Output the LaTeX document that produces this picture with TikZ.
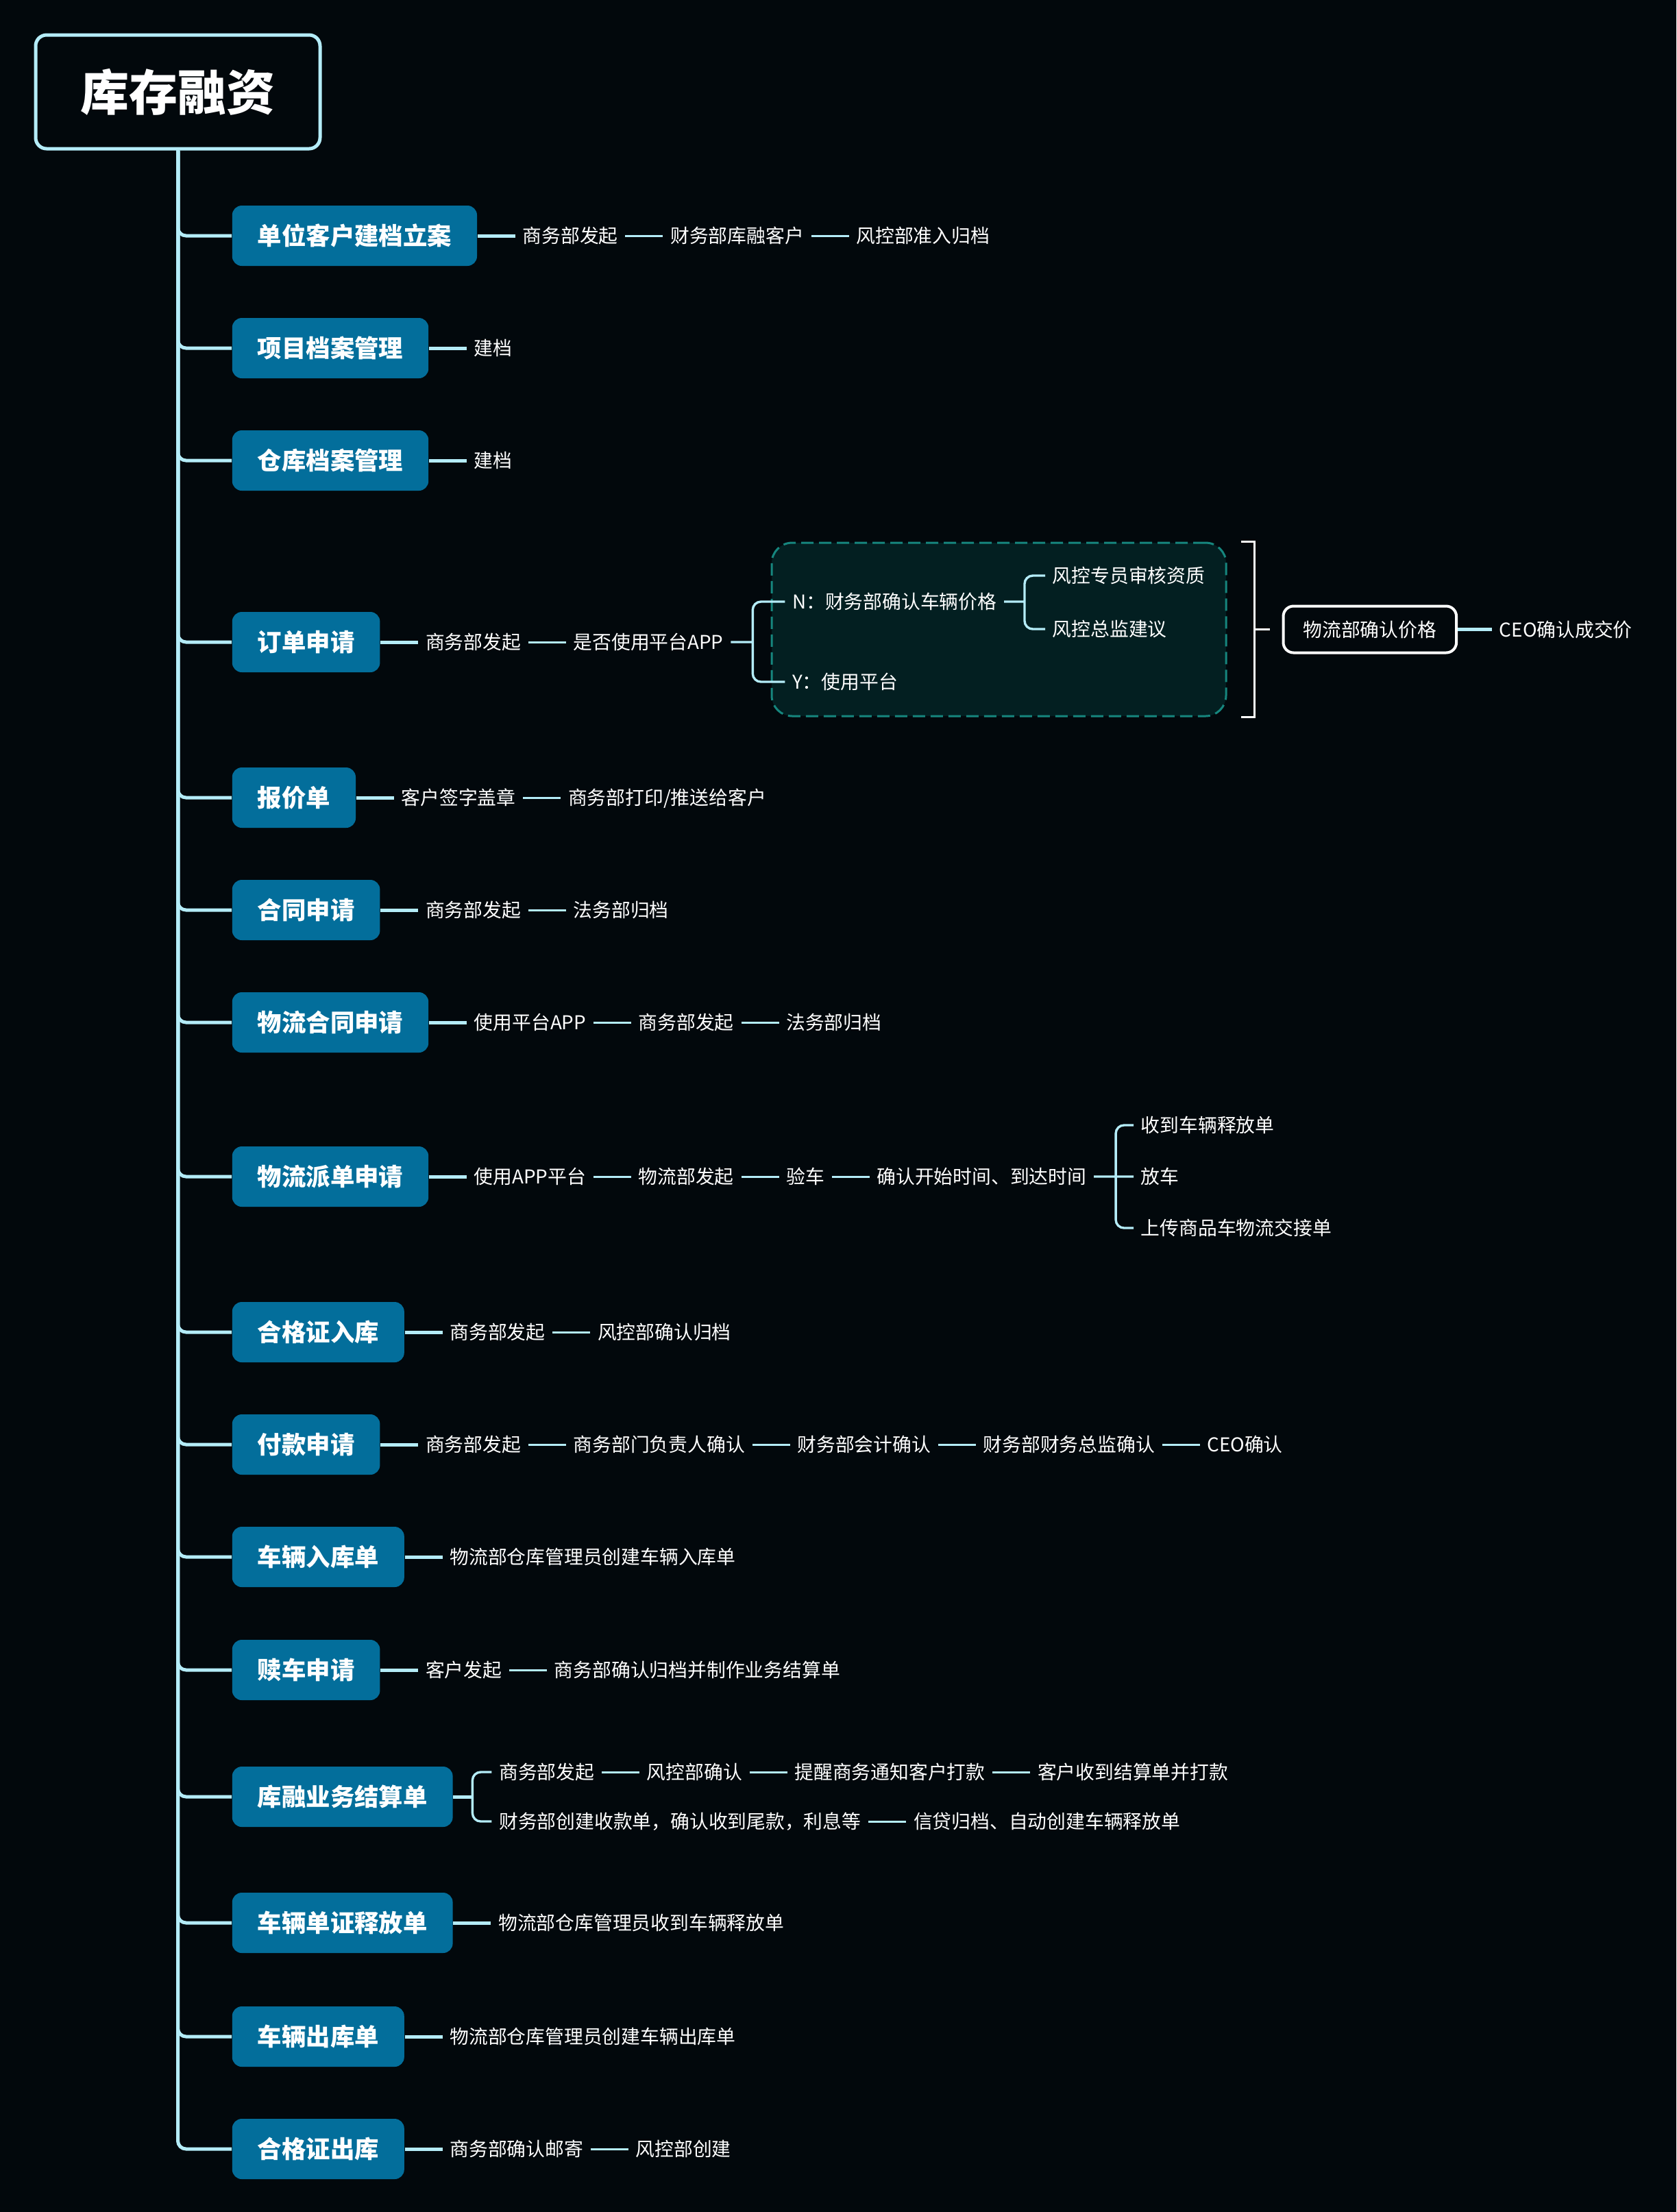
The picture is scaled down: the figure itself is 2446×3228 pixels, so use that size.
\documentclass[tikz,border=0pt]{standalone}
\usepackage{fontspec}
\setmainfont{Noto Sans CJK SC}
\usetikzlibrary{positioning}

\definecolor{bgdark}{RGB}{2,8,12}
\definecolor{linecyan}{RGB}{180,236,248}
\definecolor{topicblue}{RGB}{3,110,155}
\definecolor{groupteal}{RGB}{22,134,126}
\definecolor{groupfill}{RGB}{3,31,33}

\begin{document}
\begin{tikzpicture}[x=0.25pt,y=-0.25pt,node distance=13.75pt,
   root/.style={draw=linecyan,line width=1.25pt,rounded corners=4pt,fill=bgdark,
      text=white,font=\bfseries\fontsize{17.75}{20}\selectfont,
      minimum width=103.75pt,minimum height=41.5pt},
   topic/.style={anchor=west,fill=topicblue,rounded corners=3.5pt,text=white,
      font=\bfseries\fontsize{8.85}{10}\selectfont,minimum height=22pt,
      inner xsep=9.25pt,text height=7.6pt,text depth=0.95pt},
   leaf/.style={text=white,font=\fontsize{6.95}{8}\selectfont,inner xsep=2.5pt,
      inner ysep=1pt,text height=6pt,text depth=0.75pt},
   price/.style={leaf,draw=white,line width=1pt,rounded corners=3.75pt,
      fill=bgdark,minimum height=17pt,inner xsep=7.25pt},
   groupbox/.style={draw=groupteal,fill=groupfill,line width=0.75pt,
      dash pattern=on 4.5pt off 2pt,rounded corners=7.5pt,
      minimum width=165.75pt,minimum height=63.25pt},
   trunk/.style={draw=linecyan,line width=1.25pt,rounded corners=3pt},
   stem/.style={draw=linecyan,line width=1.25pt},
   seqline/.style={draw=linecyan,line width=0.75pt},
   forkline/.style={draw=linecyan,line width=0.85pt,rounded corners=3pt},
   closer/.style={draw=white,line width=0.8pt}]

   \fill[bgdark] (0,0) rectangle (2446,3228);
   \useasboundingbox (0,0) rectangle (2446,3228);

   \node[root] (root) at (259.5,134) {库存融资};

   % single chains
   \node[topic] (t1) at (338,344) {单位客户建档立案};
   \node[leaf] (t1a) [right=of t1]  {商务部发起};
   \node[leaf] (t1b) [right=of t1a] {财务部库融客户};
   \node[leaf] (t1c) [right=of t1b] {风控部准入归档};

   \node[topic] (t2) at (338,508) {项目档案管理};
   \node[leaf] (t2a) [right=of t2] {建档};

   \node[topic] (t3) at (338,672) {仓库档案管理};
   \node[leaf] (t3a) [right=of t3] {建档};

   % order with the dashed group
   \node[topic] (t4) at (338,937) {订单申请};
   \node[leaf] (t4a) [right=of t4]  {商务部发起};
   \node[leaf] (t4b) [right=of t4a] {是否使用平台APP};
   \node[groupbox] (grp) at (1457.5,918.5) {};
   \node[leaf] (t4n) [right=19.75pt of t4b,yshift=14.75pt] {N：财务部确认车辆价格};
   \node[leaf] (t4y) [right=19.75pt of t4b,yshift=-14.5pt] {Y：使用平台};
   \node[leaf] (t4n1) [right=15pt of t4n,yshift=9.5pt] {风控专员审核资质};
   \node[leaf] (t4n2) [right=15pt of t4n,yshift=-10pt] {风控总监建议};
   \node[price] (t4p) [right=20pt of grp] {物流部确认价格};
   \node[leaf] (t4c) [right=12.5pt of t4p] {CEO确认成交价};

   \node[topic] (t5) at (338,1164) {报价单};
   \node[leaf] (t5a) [right=of t5]  {客户签字盖章};
   \node[leaf] (t5b) [right=of t5a] {商务部打印/推送给客户};

   \node[topic] (t6) at (338,1328) {合同申请};
   \node[leaf] (t6a) [right=of t6]  {商务部发起};
   \node[leaf] (t6b) [right=of t6a] {法务部归档};

   \node[topic] (t7) at (338,1492) {物流合同申请};
   \node[leaf] (t7a) [right=of t7]  {使用平台APP};
   \node[leaf] (t7b) [right=of t7a] {商务部发起};
   \node[leaf] (t7c) [right=of t7b] {法务部归档};

   % dispatch with three ends
   \node[topic] (t8) at (338,1717) {物流派单申请};
   \node[leaf] (t8a) [right=of t8]  {使用APP平台};
   \node[leaf] (t8b) [right=of t8a] {物流部发起};
   \node[leaf] (t8c) [right=of t8b] {验车};
   \node[leaf] (t8d) [right=of t8c] {确认开始时间、到达时间};
   \node[leaf] (t8e) [right=14.5pt of t8d,yshift=18.75pt]  {收到车辆释放单};
   \node[leaf] (t8f) [right=14.5pt of t8d]                 {放车};
   \node[leaf] (t8g) [right=14.5pt of t8d,yshift=-18.75pt] {上传商品车物流交接单};

   \node[topic] (t9) at (338,1944) {合格证入库};
   \node[leaf] (t9a) [right=of t9]  {商务部发起};
   \node[leaf] (t9b) [right=of t9a] {风控部确认归档};

   \node[topic] (t10) at (338,2108) {付款申请};
   \node[leaf] (t10a) [right=of t10]  {商务部发起};
   \node[leaf] (t10b) [right=of t10a] {商务部门负责人确认};
   \node[leaf] (t10c) [right=of t10b] {财务部会计确认};
   \node[leaf] (t10d) [right=of t10c] {财务部财务总监确认};
   \node[leaf] (t10e) [right=of t10d] {CEO确认};

   \node[topic] (t11) at (338,2272) {车辆入库单};
   \node[leaf] (t11a) [right=of t11] {物流部仓库管理员创建车辆入库单};

   \node[topic] (t12) at (338,2437) {赎车申请};
   \node[leaf] (t12a) [right=of t12]  {客户发起};
   \node[leaf] (t12b) [right=of t12a] {商务部确认归档并制作业务结算单};

   % settlement with two rows
   \node[topic] (t13) at (338,2622) {库融业务结算单};
   \node[leaf] (t13a) [right=14pt of t13,yshift=9pt] {商务部发起};
   \node[leaf] (t13b) [right=of t13a] {风控部确认};
   \node[leaf] (t13c) [right=of t13b] {提醒商务通知客户打款};
   \node[leaf] (t13d) [right=of t13c] {客户收到结算单并打款};
   \node[leaf] (t13e) [right=14pt of t13,yshift=-9pt] {财务部创建收款单，确认收到尾款，利息等};
   \node[leaf] (t13f) [right=of t13e] {信贷归档、自动创建车辆释放单};

   \node[topic] (t14) at (338,2806) {车辆单证释放单};
   \node[leaf] (t14a) [right=of t14] {物流部仓库管理员收到车辆释放单};

   \node[topic] (t15) at (338,2972) {车辆出库单};
   \node[leaf] (t15a) [right=of t15] {物流部仓库管理员创建车辆出库单};

   \node[topic] (t16) at (338,3136) {合格证出库};
   \node[leaf] (t16a) [right=of t16]  {商务部确认邮寄};
   \node[leaf] (t16b) [right=of t16a] {风控部创建};

   % trunk
   \foreach \i in {1,...,16}
      \draw[trunk] (root.south) |- (t\i.west);

   % first links
   \path[stem]
      (t1) edge (t1a)  (t2) edge (t2a)  (t3) edge (t3a)
      (t4) edge (t4a)  (t4p) edge (t4c)
      (t5) edge (t5a)  (t6) edge (t6a)  (t7) edge (t7a)
      (t8) edge (t8a)  (t9) edge (t9a)  (t10) edge (t10a)
      (t11) edge (t11a) (t12) edge (t12a)
      (t14) edge (t14a) (t15) edge (t15a) (t16) edge (t16a);

   % sequences
   \path[seqline]
      (t1a) edge (t1b)  (t1b) edge (t1c)
      (t4a) edge (t4b)
      (t5a) edge (t5b)
      (t6a) edge (t6b)
      (t7a) edge (t7b)  (t7b) edge (t7c)
      (t8a) edge (t8b)  (t8b) edge (t8c)  (t8c) edge (t8d)
      (t9a) edge (t9b)
      (t10a) edge (t10b) (t10b) edge (t10c) (t10c) edge (t10d) (t10d) edge (t10e)
      (t12a) edge (t12b)
      (t13a) edge (t13b) (t13b) edge (t13c) (t13c) edge (t13d)
      (t13e) edge (t13f)
      (t16a) edge (t16b);

   % forks
   \draw[forkline] (t4b.east) -- ++(8pt,0) coordinate (f4)
      (f4) |- (t4n.west)  (f4) |- (t4y.west);
   \draw[forkline] (t4n.east) -- ++(7.5pt,0) coordinate (f4n)
      (f4n) |- (t4n1.west)  (f4n) |- (t4n2.west);
   \draw[forkline] (t8d.east) -- ++(8pt,0) coordinate (f8)
      (f8) |- (t8e.west)  (f8) -- (t8f.west)  (f8) |- (t8g.west);
   \draw[stem] (t13.east) -- ++(7pt,0) coordinate (f13);
   \draw[forkline] (f13) |- (t13a.west)  (f13) |- (t13e.west);

   % closing bracket
   \draw[closer] ([xshift=5pt]grp.north east) -- ([xshift=10pt]grp.north east)
      -- ([xshift=10pt]grp.south east) -- ([xshift=5pt]grp.south east);
   \draw[closer] ([xshift=10pt]grp.east) -- ++(5.5pt,0);
\end{tikzpicture}
\end{document}
